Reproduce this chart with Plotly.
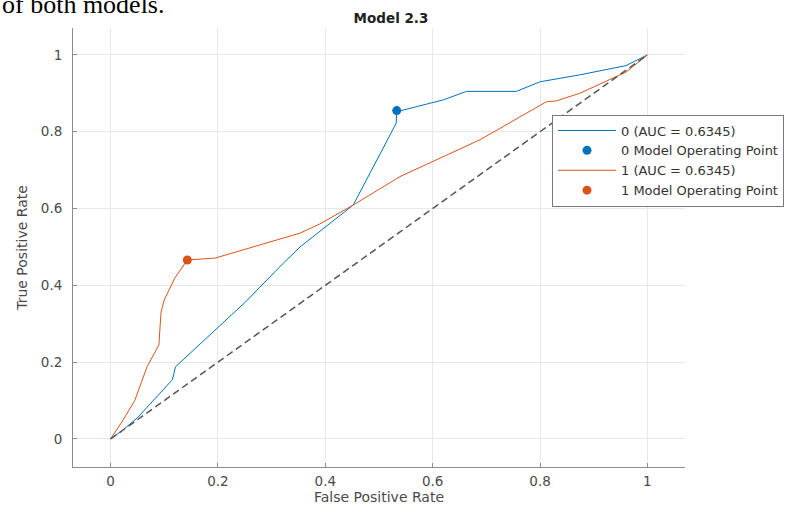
import plotly.graph_objects as go

# ROC curve, class 0
fpr0 = [0, 0.02, 0.05, 0.115, 0.121, 0.2, 0.25, 0.32, 0.353, 0.452, 0.532, 0.533, 0.62, 0.663, 0.756, 0.8, 0.874, 0.96, 1.0]
tpr0 = [0, 0.02, 0.055, 0.154, 0.188, 0.29, 0.355, 0.455, 0.50, 0.609, 0.822, 0.852, 0.883, 0.905, 0.905, 0.93, 0.948, 0.972, 1.0]
# ROC curve, class 1
fpr1 = [0, 0.02, 0.045, 0.068, 0.09, 0.094, 0.1, 0.12, 0.143, 0.195, 0.353, 0.39, 0.452, 0.539, 0.688, 0.812, 0.83, 0.874, 0.96, 1.0]
tpr1 = [0, 0.042, 0.1, 0.188, 0.245, 0.33, 0.362, 0.42, 0.466, 0.471, 0.536, 0.56, 0.609, 0.683, 0.779, 0.878, 0.88, 0.90, 0.955, 1.0]
# operating points
op0 = ([0.533], [0.855])
op1 = ([0.143], [0.466])
# chance line
diag_x = [0, 1]
diag_y = [0, 1]

names = ["0 (AUC = 0.6345)", "0 Model Operating Point", "1 (AUC = 0.6345)", "1 Model Operating Point"]
ticks = [0, 0.2, 0.4, 0.6, 0.8, 1]
tick_text = ["0", "0.2", "0.4", "0.6", "0.8", "1"]

BLUE = "#0072BD"
ORANGE = "#D95319"
FONT = "DejaVu Sans"

fig = go.Figure()
fig.add_trace(go.Scatter(x=fpr0, y=tpr0, mode="lines", name=names[0],
                         line=dict(color=BLUE, width=1)))
fig.add_trace(go.Scatter(x=op0[0], y=op0[1], mode="markers", name=names[1],
                         marker=dict(color=BLUE, size=9)))
fig.add_trace(go.Scatter(x=fpr1, y=tpr1, mode="lines", name=names[2],
                         line=dict(color=ORANGE, width=1)))
fig.add_trace(go.Scatter(x=op1[0], y=op1[1], mode="markers", name=names[3],
                         marker=dict(color=ORANGE, size=9)))
fig.add_trace(go.Scatter(x=diag_x, y=diag_y, mode="lines", showlegend=False,
                         line=dict(color="#555555", width=1.5, dash="7px,4px")))

axis_common = dict(
    showgrid=True, gridcolor="#e8e8e8", gridwidth=1,
    zeroline=False, showline=True, linecolor="#8c8c8c", linewidth=1,
    ticks="inside", ticklen=4, tickcolor="#8c8c8c",
    tickfont=dict(family=FONT, size=13.5, color="#4a4a4a"),
    tickvals=ticks, ticktext=tick_text, mirror=False,
)

fig.update_layout(
    width=804, height=506,
    margin=dict(l=73, r=119, t=28, b=39, autoexpand=False),
    paper_bgcolor="white", plot_bgcolor="white",
    font=dict(family=FONT, color="#333333"),
    title=dict(text="<b>Model 2.3</b>", x=(391 - 73) / 612, xref="paper", xanchor="center",
               y=1 - 18 / 506, yref="container", yanchor="middle",
               font=dict(family=FONT, size=13.5, color="#222222")),
    xaxis=dict(range=[-0.07, 1.07], ticklabelstandoff=2,
               title=dict(text="False Positive Rate",
                          font=dict(family=FONT, size=14, color="#4a4a4a"), standoff=3),
               **axis_common),
    yaxis=dict(range=[-0.073, 1.07], ticklabelstandoff=7,
               title=dict(text="True Positive Rate",
                          font=dict(family=FONT, size=14, color="#4a4a4a"), standoff=9),
               **axis_common),
    legend=dict(x=(552 - 73) / 612, xanchor="left", y=1 - (160.5 - 28) / 439, yanchor="middle",
                bgcolor="white", bordercolor="#7a7a7a", borderwidth=1,
                font=dict(family=FONT, size=13, color="#333333"),
                itemwidth=58, tracegroupgap=0),
    showlegend=True,
)

fig.add_annotation(text="of both models.", xref="paper", yref="paper",
                   x=-73 / 612, xanchor="left", y=1 + (28 - 4) / 439, yanchor="middle",
                   showarrow=False, font=dict(family="Liberation Serif", size=26, color="black"))

fig.write_html("out.html")
